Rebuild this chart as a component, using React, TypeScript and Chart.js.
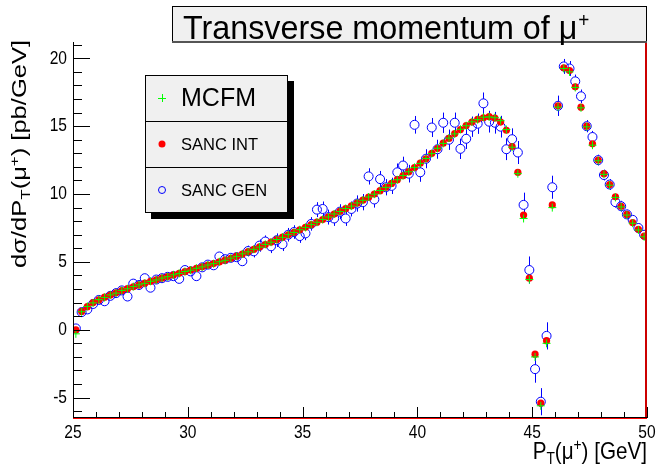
import React, { useEffect, useRef } from "react";
import { Chart, registerables } from "chart.js";

Chart.register(...registerables);

const binCenters = [
  25.125, 25.375, 25.625, 25.875, 26.125, 26.375, 26.625, 26.875, 27.125, 27.375,
  27.625, 27.875, 28.125, 28.375, 28.625, 28.875, 29.125, 29.375, 29.625, 29.875,
  30.125, 30.375, 30.625, 30.875, 31.125, 31.375, 31.625, 31.875, 32.125, 32.375,
  32.625, 32.875, 33.125, 33.375, 33.625, 33.875, 34.125, 34.375, 34.625, 34.875,
  35.125, 35.375, 35.625, 35.875, 36.125, 36.375, 36.625, 36.875, 37.125, 37.375,
  37.625, 37.875, 38.125, 38.375, 38.625, 38.875, 39.125, 39.375, 39.625, 39.875,
  40.125, 40.375, 40.625, 40.875, 41.125, 41.375, 41.625, 41.875, 42.125, 42.375,
  42.625, 42.875, 43.125, 43.375, 43.625, 43.875, 44.125, 44.375, 44.625, 44.875,
  45.125, 45.375, 45.625, 45.875, 46.125, 46.375, 46.625, 46.875, 47.125, 47.375,
  47.625, 47.875, 48.125, 48.375, 48.625, 48.875, 49.125, 49.375, 49.625, 49.875,
];

const sancInt = [
  0.0, 1.35, 1.7, 2.0, 2.2, 2.4, 2.56, 2.72, 2.88, 3.03,
  3.17, 3.3, 3.43, 3.56, 3.68, 3.8, 3.92, 4.04, 4.16, 4.28,
  4.4, 4.52, 4.64, 4.76, 4.88, 5.0, 5.13, 5.27, 5.42, 5.58,
  5.75, 5.92, 6.1, 6.28, 6.46, 6.64, 6.82, 7.0, 7.18, 7.36,
  7.55, 7.74, 7.93, 8.12, 8.32, 8.52, 8.72, 8.92, 9.12, 9.33,
  9.55, 9.77, 10.0, 10.25, 10.5, 10.78, 11.06, 11.35, 11.65, 11.95,
  12.27, 12.6, 13.0, 13.35, 13.75, 14.1, 14.45, 14.75, 15.05, 15.3,
  15.5, 15.62, 15.7, 15.6, 15.3, 14.7, 13.5, 11.6, 8.45, 3.8,
  -1.8, -5.4, -0.8, 9.2, 16.5, 19.3, 19.1, 17.9, 16.4, 15.0,
  13.7, 12.5, 11.5, 10.7, 9.8, 9.1, 8.5, 7.9, 7.4, 6.9,
];

const mcfm = [
  -0.3, 1.33, 1.72, 1.98, 2.22, 2.38, 2.57, 2.7, 2.9, 3.02,
  3.18, 3.31, 3.42, 3.57, 3.67, 3.81, 3.91, 4.05, 4.15, 4.29,
  4.39, 4.53, 4.63, 4.77, 4.87, 5.01, 5.12, 5.28, 5.41, 5.59,
  5.74, 5.93, 6.09, 6.29, 6.45, 6.65, 6.81, 7.01, 7.17, 7.37,
  7.54, 7.75, 7.92, 8.13, 8.31, 8.53, 8.71, 8.93, 9.11, 9.34,
  9.54, 9.78, 9.99, 10.26, 10.49, 10.79, 11.05, 11.36, 11.64, 11.96,
  12.26, 12.62, 12.98, 13.37, 13.73, 14.12, 14.43, 14.77, 15.03, 15.32,
  15.48, 15.66, 15.68, 15.62, 15.4, 14.75, 13.45, 11.5, 8.2, 3.7,
  -2.0, -5.6, -1.0, 9.0, 16.4, 19.25, 19.0, 17.85, 16.35, 14.95,
  13.6, 12.45, 11.45, 10.65, 9.75, 9.05, 8.45, 7.85, 7.35, 6.85,
];

const sancGen = [
  0.1, 1.3, 1.5, 1.9, 2.2, 2.1, 2.5, 2.7, 2.9, 2.45,
  3.4, 3.3, 3.8, 3.1, 3.7, 3.8, 3.9, 3.95, 3.75, 4.4,
  4.3, 3.95, 4.6, 4.8, 4.75, 5.4, 5.2, 5.3, 5.35, 5.05,
  5.8, 5.78, 6.2, 6.5, 6.15, 6.6, 6.3, 7.0, 7.2, 6.9,
  7.1, 7.8, 8.85, 8.9, 8.3, 8.2, 8.7, 8.2, 8.9, 9.3,
  9.4, 11.3, 9.6, 11.1, 10.5, 10.6, 11.6, 12.1, 11.5, 15.1,
  11.6, 12.6, 14.9, 13.3, 15.25, 14.0, 15.25, 13.33, 14.07, 14.96,
  15.18, 16.68, 15.33, 15.25, 14.96, 13.3, 14.04, 13.06, 9.2, 4.4,
  -2.9, -5.3, -0.45, 10.5, 16.5, 19.4, 19.25, 18.3, 17.2, 15.0,
  14.2, 12.5, 11.4, 10.7, 9.4, 9.1, 8.5, 8.1, 7.5, 7.0,
];

const sancGenErr = [
  0.25, 0.25, 0.25, 0.25, 0.25, 0.25, 0.25, 0.25, 0.25, 0.25,
  0.25, 0.25, 0.25, 0.25, 0.25, 0.25, 0.25, 0.25, 0.25, 0.25,
  0.3, 0.3, 0.3, 0.3, 0.3, 0.3, 0.3, 0.3, 0.3, 0.3,
  0.4, 0.45, 0.45, 0.45, 0.5, 0.5, 0.5, 0.5, 0.5, 0.5,
  0.5, 0.5, 0.55, 0.55, 0.55, 0.55, 0.55, 0.55, 0.55, 0.6,
  0.6, 0.6, 0.6, 0.6, 0.6, 0.6, 0.65, 0.65, 0.65, 0.65,
  0.7, 0.7, 0.7, 0.7, 0.75, 0.75, 0.75, 0.75, 0.75, 0.75,
  0.75, 0.8, 0.8, 0.8, 0.8, 0.8, 0.8, 0.85, 0.9, 1.0,
  1.0, 1.0, 1.0, 0.85, 0.75, 0.55, 0.55, 0.5, 0.5, 0.45,
  0.45, 0.4, 0.4, 0.4, 0.4, 0.4, 0.35, 0.35, 0.35, 0.35,
];

const xMajorTicks = [25, 30, 35, 40, 45, 50];
const xMinorTicks = [26, 27, 28, 29, 31, 32, 33, 34, 36, 37, 38, 39, 41, 42, 43, 44, 46, 47, 48, 49];
const yMajorTicks = [-5, 0, 5, 10, 15, 20];
const yMinorTicks = [-6, -4, -3, -2, -1, 1, 2, 3, 4, 6, 7, 8, 9, 11, 12, 13, 14, 16, 17, 18, 19, 21];

const seriesNames = ["MCFM", "SANC INT", "SANC GEN"];
const titleText = "Transverse momentum of \u03bc";

const FONT = "'Liberation Sans', Arial, Helvetica, sans-serif";

function pts(ys: number[]) {
  return binCenters.map((x, i) => ({ x, y: ys[i] }));
}

type Part = [string, number, number];

function partsWidth(ctx: CanvasRenderingContext2D, parts: Part[]) {
  let w = 0;
  parts.forEach(([t, s]) => {
    ctx.font = `${s}px ${FONT}`;
    w += ctx.measureText(t).width;
  });
  return w;
}

function drawParts(ctx: CanvasRenderingContext2D, parts: Part[], x0: number) {
  let cx = x0;
  parts.forEach(([t, s, dy]) => {
    ctx.font = `${s}px ${FONT}`;
    ctx.fillText(t, cx, dy);
    cx += ctx.measureText(t).width;
  });
}

const rootPlugin = {
  id: "rootStyle",
  beforeDraw(chart: any) {
    const ctx = chart.ctx;
    ctx.save();
    ctx.fillStyle = "#ffffff";
    ctx.fillRect(0, 0, chart.width, chart.height);
    ctx.restore();
  },
  beforeDatasetsDraw(chart: any) {
    const ctx = chart.ctx;
    const xs = chart.scales.x;
    const ys = chart.scales.y;
    const r = 4.5;
    ctx.save();
    ctx.strokeStyle = "#0000ff";
    ctx.lineWidth = 1;
    ctx.beginPath();
    binCenters.forEach((x, i) => {
      const px = Math.round(xs.getPixelForValue(x)) + 0.5;
      const py = ys.getPixelForValue(sancGen[i]);
      const top = ys.getPixelForValue(sancGen[i] + sancGenErr[i]);
      const bot = ys.getPixelForValue(sancGen[i] - sancGenErr[i]);
      if (py - top > r) {
        ctx.moveTo(px, top);
        ctx.lineTo(px, py - r);
        ctx.moveTo(px, py + r);
        ctx.lineTo(px, bot);
      }
    });
    ctx.stroke();
    ctx.restore();
  },
  afterDraw(chart: any) {
    const ctx: CanvasRenderingContext2D = chart.ctx;
    const xs = chart.scales.x;
    const ys = chart.scales.y;
    const a = chart.chartArea;
    ctx.save();

    // frame (red) right and bottom
    ctx.strokeStyle = "#cc0000";
    ctx.lineWidth = 2;
    ctx.beginPath();
    ctx.moveTo(a.right - 1, a.top);
    ctx.lineTo(a.right - 1, a.bottom);
    ctx.stroke();
    ctx.strokeStyle = "#ff0000";
    ctx.lineWidth = 1;
    ctx.beginPath();
    ctx.moveTo(a.left, a.bottom + 0.5);
    ctx.lineTo(a.right, a.bottom + 0.5);
    ctx.stroke();

    // axes (black)
    ctx.strokeStyle = "#000000";
    ctx.lineWidth = 1;
    ctx.beginPath();
    ctx.moveTo(a.left + 0.5, a.top);
    ctx.lineTo(a.left + 0.5, a.bottom);
    ctx.moveTo(a.left, a.bottom - 0.5);
    ctx.lineTo(a.right, a.bottom - 0.5);
    xMajorTicks.forEach((v) => {
      const px = Math.round(xs.getPixelForValue(v)) + 0.5;
      ctx.moveTo(px, a.bottom);
      ctx.lineTo(px, a.bottom - 11);
    });
    xMinorTicks.forEach((v) => {
      const px = Math.round(xs.getPixelForValue(v)) + 0.5;
      ctx.moveTo(px, a.bottom);
      ctx.lineTo(px, a.bottom - 6);
    });
    yMajorTicks.forEach((v) => {
      const py = Math.round(ys.getPixelForValue(v)) + 0.5;
      ctx.moveTo(a.left, py);
      ctx.lineTo(a.left + 17, py);
    });
    yMinorTicks.forEach((v) => {
      const py = Math.round(ys.getPixelForValue(v)) + 0.5;
      if (py > a.top && py < a.bottom) {
        ctx.moveTo(a.left, py);
        ctx.lineTo(a.left + 9, py);
      }
    });
    ctx.stroke();

    // tick labels (condensed)
    const SX = 0.82;
    ctx.fillStyle = "#000000";
    ctx.font = `19px ${FONT}`;
    ctx.textBaseline = "middle";
    xMajorTicks.forEach((v) => {
      ctx.save();
      ctx.translate(xs.getPixelForValue(v), a.bottom + 15);
      ctx.scale(SX, 1);
      ctx.textAlign = "center";
      ctx.fillText(String(v), 0, 0);
      ctx.restore();
    });
    yMajorTicks.forEach((v) => {
      ctx.save();
      ctx.translate(a.left - 6, ys.getPixelForValue(v));
      ctx.scale(SX, 1);
      ctx.textAlign = "right";
      ctx.fillText(String(v), 0, 0);
      ctx.restore();
    });

    // x axis title
    ctx.textAlign = "left";
    ctx.textBaseline = "alphabetic";
    const xParts: Part[] = [
      ["P", 24, 0],
      ["T", 16, 5],
      ["(\u03bc", 24, 0],
      ["+", 16, -9],
      [") [GeV]", 24, 0],
    ];
    const xw = partsWidth(ctx, xParts);
    ctx.save();
    ctx.translate(a.right, 459);
    ctx.scale(0.86, 1);
    drawParts(ctx, xParts, -xw);
    ctx.restore();

    // y axis title rotated
    const yParts: Part[] = [
      ["d\u03c3/dP", 25.5, 0],
      ["T", 17, 5],
      ["(\u03bc", 25.5, 0],
      ["+", 17, -9],
      [") [pb/GeV]", 25.5, 0],
    ];
    const yl = partsWidth(ctx, yParts);
    ctx.save();
    ctx.translate(26, 40 + yl);
    ctx.rotate(-Math.PI / 2);
    ctx.scale(1, 0.78);
    drawParts(ctx, yParts, 0);
    ctx.restore();

    // title box
    const tb = { l: 172, t: 6, r: 647, b: 42 };
    ctx.fillStyle = "#f0f0f0";
    ctx.fillRect(tb.l, tb.t, tb.r - tb.l, tb.b - tb.t);
    ctx.strokeStyle = "#000000";
    ctx.lineWidth = 1;
    ctx.strokeRect(tb.l + 0.5, tb.t + 0.5, tb.r - tb.l - 1, tb.b - tb.t - 1);
    ctx.fillStyle = "#555555";
    ctx.fillRect(tb.l, tb.b - 1, tb.r - tb.l, 2);
    ctx.fillStyle = "#000000";
    ctx.save();
    ctx.translate(183, 39);
    ctx.scale(0.95, 1);
    ctx.font = `34px ${FONT}`;
    ctx.fillText(titleText, 0, 0);
    const tw = ctx.measureText(titleText).width;
    ctx.font = `20px ${FONT}`;
    ctx.fillText("+", tw + 1, -12);
    ctx.restore();

    // legend box with shadow
    const lb = { l: 145, t: 75, r: 288, b: 213 };
    ctx.fillStyle = "#000000";
    ctx.fillRect(lb.r, lb.t + 6, 6, lb.b - lb.t);
    ctx.fillRect(lb.l + 6, lb.b, lb.r - lb.l, 6);
    ctx.fillStyle = "#f0f0f0";
    ctx.fillRect(lb.l, lb.t, lb.r - lb.l, lb.b - lb.t);
    ctx.strokeStyle = "#000000";
    ctx.strokeRect(lb.l + 0.5, lb.t + 0.5, lb.r - lb.l - 1, lb.b - lb.t - 1);
    const rowH = (lb.b - lb.t) / 3;
    ctx.beginPath();
    for (let k = 1; k < 3; k++) {
      const yy = Math.round(lb.t + rowH * k) + 0.5;
      ctx.moveTo(lb.l, yy);
      ctx.lineTo(lb.r, yy);
    }
    ctx.stroke();
    const mx = 162;
    seriesNames.forEach((name, k) => {
      const yc = lb.t + rowH * (k + 0.5);
      if (k === 0) {
        ctx.strokeStyle = "#00ff00";
        ctx.beginPath();
        ctx.moveTo(mx - 4, yc + 0.5);
        ctx.lineTo(mx + 4, yc + 0.5);
        ctx.moveTo(mx + 0.5, yc - 4);
        ctx.lineTo(mx + 0.5, yc + 4);
        ctx.stroke();
      } else if (k === 1) {
        ctx.fillStyle = "#ff0000";
        ctx.beginPath();
        ctx.arc(mx, yc, 3.5, 0, Math.PI * 2);
        ctx.fill();
      } else {
        ctx.strokeStyle = "#0000ff";
        ctx.beginPath();
        ctx.arc(mx, yc, 3.5, 0, Math.PI * 2);
        ctx.stroke();
      }
      ctx.fillStyle = "#000000";
      ctx.font = k === 0 ? `25px ${FONT}` : `16.5px ${FONT}`;
      ctx.textAlign = "left";
      ctx.textBaseline = "middle";
      ctx.fillText(name, 181, yc + 1);
    });

    ctx.restore();
  },
};

export default function App() {
  const ref = useRef<HTMLCanvasElement | null>(null);
  useEffect(() => {
    document.body.style.margin = "0";
    const canvas = ref.current;
    if (!canvas) return;
    const chart = new Chart(canvas, {
      type: "scatter",
      data: {
        datasets: [
          {
            label: seriesNames[0],
            data: pts(mcfm),
            pointStyle: "cross",
            radius: 4,
            borderColor: "#00ff00",
            backgroundColor: "#00ff00",
            borderWidth: 1,
            order: 1,
          },
          {
            label: seriesNames[1],
            data: pts(sancInt),
            pointStyle: "circle",
            radius: 3.6,
            borderWidth: 0,
            borderColor: "#ff0000",
            backgroundColor: "#ff0000",
            order: 2,
          },
          {
            label: seriesNames[2],
            data: pts(sancGen),
            pointStyle: "circle",
            radius: 4.5,
            borderWidth: 1,
            borderColor: "#0000ff",
            backgroundColor: "rgba(0,0,0,0)",
            order: 3,
          },
        ],
      },
      options: {
        animation: false,
        responsive: false,
        devicePixelRatio: 1,
        layout: { padding: { left: 73, right: 9, top: 42, bottom: 47 } },
        plugins: { legend: { display: false }, title: { display: false }, tooltip: { enabled: false } },
        scales: {
          x: { type: "linear", min: 25, max: 50, display: false },
          y: { type: "linear", min: -6.5, max: 21.2, display: false },
        },
        events: [],
      },
      plugins: [rootPlugin],
    });
    return () => chart.destroy();
  }, []);
  return <canvas ref={ref} width={656} height={465} style={{ display: "block" }} />;
}
